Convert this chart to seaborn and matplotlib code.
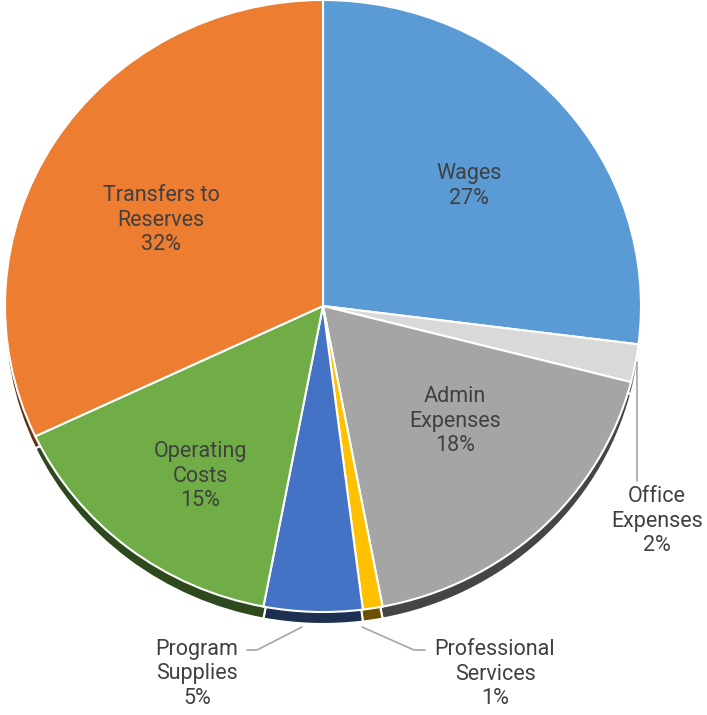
import matplotlib
matplotlib.use("Agg")
import matplotlib.pyplot as plt
import seaborn as sns
import numpy as np

# Budget shares (percent), clockwise from 12 o'clock
categories = ["Wages", "Office Expenses", "Admin Expenses", "Professional Services",
              "Program Supplies", "Operating Costs", "Transfers to Reserves"]
shares = [27, 2, 18, 1, 5, 15, 32]
slice_colors = ["#5B9BD5", "#D9D9D9", "#A5A5A5", "#FFC000", "#4472C4", "#70AD47", "#ED7D31"]
label_text = ["Wages", "Office\nExpenses", "Admin\nExpenses", "Professional\nServices",
              "Program\nSupplies", "Operating\nCosts", "Transfers to\nReserves"]

sns.set_style("white")
plt.rcParams['font.family'] = ['Roboto', 'DejaVu Sans']

W, H = 707, 715
CX, CY, RX, RY = 323, 306, 318, 306


def to_data(px, py):
    return (px - CX) / RX, (CY - py) / RY


fig = plt.figure(figsize=(W / 100, H / 100), dpi=100)
ax = fig.add_axes([0, 0, 1, 1])

palette = sns.color_palette(slice_colors)
rim = [tuple(np.array(c) * 0.42) for c in palette]

# depth rim (drawn first, shifted down)
rim_off = 12 / RY
ax.pie(shares, colors=rim, startangle=90, counterclock=False, center=(0, -rim_off),
       radius=1, wedgeprops=dict(edgecolor="white", linewidth=1.5), frame=True)
ax.pie(shares, colors=palette, startangle=90, counterclock=False, center=(0, 0),
       radius=1, wedgeprops=dict(edgecolor="white", linewidth=1.5), frame=True)

ax.set_aspect("auto")
x0, y0 = to_data(0, H)
x1, y1 = to_data(W, 0)
ax.set_xlim(x0, x1)
ax.set_ylim(y0, y1)
ax.axis("off")

txt = dict(fontsize=15.5, color="#404040", ha="center", va="center", linespacing=1.2)

# labels: (px, py) centre of label block
positions = {
    "Wages": (469, 186),
    "Office Expenses": (657, 521),
    "Admin Expenses": (455, 421),
    "Professional Services": (495, 674),
    "Program Supplies": (197, 674),
    "Operating Costs": (200, 476),
    "Transfers to Reserves": (161, 220),
}
for cat, lab, val in zip(categories, label_text, shares):
    px, py = positions[cat]
    ax.text(*to_data(px, py), f"{lab}\n{val}%", **txt)

# leader lines
leaders = [
    [(637, 362), (637, 481)],
    [(247, 650), (257, 650), (302, 627)],
    [(362, 627), (414, 650), (425, 650)],
]
for pts in leaders:
    d = np.array([to_data(*p) for p in pts])
    ax.plot(d[:, 0], d[:, 1], color="#A6A6A6", lw=1.2)

fig.savefig("out.png", dpi=100)
